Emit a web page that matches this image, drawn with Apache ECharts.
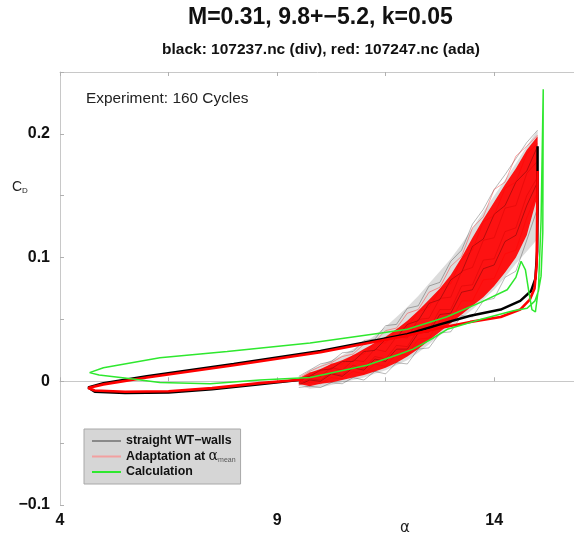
<!DOCTYPE html>
<html><head><meta charset="utf-8">
<script src="https://cdn.jsdelivr.net/npm/echarts@6/dist/echarts.min.js"></script>
<style>html,body{margin:0;padding:0;background:#fff}#c{width:574px;height:535px}</style>
</head><body><div id="c"></div><script>
// ---- data ----
const xTickLabels = [4, 9, 14];
const yTickLabels = [-0.1, 0, 0.1, 0.2];

// alpha grid of the noisy rising branches (160 measured cycles)
const bundleAlpha = [9.5, 9.75, 10, 10.25, 10.5, 10.75, 11, 11.25, 11.5, 11.75, 12, 12.25, 12.5, 12.75, 13, 13.25, 13.5, 13.75, 14, 14.25, 14.5, 14.75, 15];
// envelopes of the cycle bundles
const redUpper   = [0.002, 0.007, 0.010, 0.014, 0.017, 0.021, 0.026, 0.031, 0.036, 0.042, 0.049, 0.057, 0.066, 0.075, 0.086, 0.100, 0.116, 0.131, 0.145, 0.159, 0.172, 0.187, 0.198];
const redLower   = [-0.002, -0.004, -0.002, -0.001, 0.001, 0.003, 0.005, 0.008, 0.011, 0.015, 0.020, 0.026, 0.033, 0.040, 0.047, 0.054, 0.061, 0.068, 0.077, 0.088, 0.100, 0.118, 0.150];
const blackUpper = [0.002, 0.009, 0.013, 0.017, 0.021, 0.026, 0.031, 0.037, 0.044, 0.052, 0.060, 0.069, 0.079, 0.089, 0.099, 0.111, 0.124, 0.137, 0.150, 0.163, 0.176, 0.190, 0.203];
const blackLower = [-0.003, -0.006, -0.005, -0.003, -0.001, 0.001, 0.003, 0.006, 0.009, 0.013, 0.017, 0.023, 0.030, 0.037, 0.044, 0.051, 0.058, 0.066, 0.074, 0.084, 0.095, 0.105, 0.115];
// a few individual cycles (texture)
const redCycle1 = [0.002, 0.007, 0.008, 0.014, 0.014, 0.021, 0.022, 0.031, 0.031, 0.042, 0.044, 0.056, 0.060, 0.074, 0.079, 0.099, 0.106, 0.129, 0.134, 0.156, 0.161, 0.184, 0.192];
const redCycle2 = [-0.001, 0.005, 0.004, 0.011, 0.009, 0.017, 0.016, 0.026, 0.024, 0.036, 0.035, 0.050, 0.051, 0.067, 0.068, 0.089, 0.092, 0.114, 0.116, 0.140, 0.142, 0.168, 0.178];
const redCycle3 = [-0.002, 0.002, 0.001, 0.007, 0.005, 0.013, 0.010, 0.020, 0.018, 0.029, 0.028, 0.042, 0.042, 0.058, 0.058, 0.077, 0.078, 0.098, 0.099, 0.121, 0.124, 0.150, 0.165];
const redCycle4 = [-0.003, -0.001, -0.002, 0.003, 0.002, 0.008, 0.006, 0.014, 0.012, 0.022, 0.021, 0.034, 0.035, 0.049, 0.049, 0.065, 0.065, 0.082, 0.083, 0.103, 0.106, 0.132, 0.153];
const redCycle5 = [0.003, 0.008, 0.012, 0.015, 0.020, 0.022, 0.030, 0.032, 0.041, 0.043, 0.055, 0.058, 0.072, 0.076, 0.093, 0.101, 0.124, 0.133, 0.155, 0.161, 0.182, 0.190, 0.199];
const blackCycle1 = [0.004, 0.009, 0.014, 0.016, 0.023, 0.024, 0.033, 0.034, 0.045, 0.046, 0.059, 0.061, 0.077, 0.080, 0.097, 0.106, 0.127, 0.139, 0.155, 0.167, 0.180, 0.193, 0.203];
const blackCycle2 = [0.002, 0.004, 0.009, 0.010, 0.016, 0.016, 0.024, 0.025, 0.034, 0.035, 0.046, 0.049, 0.063, 0.066, 0.082, 0.088, 0.109, 0.115, 0.135, 0.142, 0.161, 0.170, 0.190];
const blackCycle3 = [-0.003, 0.001, 0.000, 0.006, 0.004, 0.011, 0.009, 0.018, 0.016, 0.026, 0.026, 0.039, 0.040, 0.054, 0.055, 0.072, 0.074, 0.091, 0.094, 0.113, 0.118, 0.142, 0.161];
const blackCycle4 = [-0.005, -0.004, -0.005, -0.001, -0.002, 0.003, 0.001, 0.008, 0.006, 0.015, 0.014, 0.026, 0.027, 0.039, 0.040, 0.053, 0.052, 0.065, 0.067, 0.084, 0.089, 0.114, 0.140];

// descending branch + low-alpha part of the loops (all cycles overlap here)
const blackLoopX = [15.0, 15.0, 14.99, 14.95, 14.85, 14.6, 14.15, 13.45, 12.75, 12.0, 10.0, 8.0, 6.0, 5.0, 4.65, 4.8, 5.5, 6.5, 7.5, 8.6, 9.5];
const blackLoopY = [0.19, 0.14, 0.105, 0.083, 0.073, 0.065, 0.058, 0.053, 0.046, 0.038, 0.0245, 0.014, 0.004, -0.0015, -0.005, -0.0085, -0.0095, -0.009, -0.0065, -0.0025, 0.001];
const redLoopX = [15.0, 14.98, 14.93, 14.82, 14.6, 14.15, 13.45, 12.75, 12.0, 10.0, 8.0, 6.0, 5.0, 4.65, 4.8, 5.5, 6.5, 7.5, 8.6, 9.6];
const redLoopY = [0.17, 0.095, 0.075, 0.066, 0.058, 0.052, 0.048, 0.043, 0.037, 0.0235, 0.013, 0.003, -0.0025, -0.0055, -0.0075, -0.0085, -0.008, -0.0055, -0.0015, 0.0015];

// calculation loop
const greenX = [4.68, 5.0, 6.3, 7.85, 9.76, 11.4, 12.0, 12.9, 13.7, 14.3, 14.5, 14.62, 14.72, 14.8, 14.87, 14.95, 15.02, 15.08, 15.13, 15.12, 15.08, 15.02, 14.94, 14.76, 14.44, 13.68, 12.92, 12.6, 12.13, 11.83, 11.07, 9.76, 8.6, 7.46, 6.3, 5.54, 4.9, 4.68];
const greenY = [0.007, 0.011, 0.019, 0.024, 0.031, 0.039, 0.042, 0.052, 0.064, 0.074, 0.084, 0.097, 0.090, 0.072, 0.058, 0.056, 0.075, 0.130, 0.236, 0.120, 0.085, 0.073, 0.065, 0.059, 0.057, 0.050, 0.042, 0.035, 0.026, 0.022, 0.013, 0.003, 0.001, -0.002, -0.001, 0.0025, 0.005, 0.007];

const NAME_BLACK = 'straight WT\u2212walls';
const NAME_RED = 'Adaptation at \u03b1_mean';
const NAME_GREEN = 'Calculation';
const FONT = "'Liberation Sans', Arial, Helvetica, sans-serif";

// ---- helpers ----
const zip = (xs, ys) => xs.map((x, i) => [x, ys[i]]);
function lineSeries(name, xs, ys, color, width) {
  return { type: 'line', name, data: zip(xs, ys), showSymbol: false, symbol: 'none',
    lineStyle: { color, width }, itemStyle: { color }, silent: true, animation: false, clip: false };
}
function bandSeries(name, upper, lower, fill) {
  return { type: 'custom', name, silent: true, animation: false,
    data: [[bundleAlpha[0], upper[0]]],
    renderItem: (params, api) => {
      const pts = [];
      for (let i = 0; i < bundleAlpha.length; i++) pts.push(api.coord([bundleAlpha[i], upper[i]]));
      for (let i = bundleAlpha.length - 1; i >= 0; i--) pts.push(api.coord([bundleAlpha[i], lower[i]]));
      return { type: 'polygon', shape: { points: pts }, style: { fill } };
    } };
}

const chart = echarts.init(document.getElementById('c'), null, { renderer: 'canvas' });
const axisLineColor = '#c8c8c8';
const xAxisBase = { type: 'value', min: 4, max: 16, interval: 2.5,
  axisLine: { show: true, lineStyle: { color: axisLineColor, width: 1 } },
  axisTick: { show: true, inside: true, length: 4, lineStyle: { color: '#b0b0b0' } },
  splitLine: { show: false } };

chart.setOption({
  animation: false,
  backgroundColor: '#fff',
  textStyle: { fontFamily: FONT },
  title: [
    { text: 'M=0.31, 9.8+\u22125.2, k=0.05', left: 188, top: 6, padding: 0,
      textStyle: { fontSize: 23, fontWeight: 'bold', color: '#111', fontFamily: FONT } },
    { text: 'black: 107237.nc (div), red: 107247.nc (ada)', left: 162, top: 42, padding: 0,
      textStyle: { fontSize: 15.5, fontWeight: 'bold', color: '#111', fontFamily: FONT } }
  ],
  grid: { left: 60, top: 72, width: 521, height: 433, containLabel: false, outerBoundsMode: 'none' },
  xAxis: [
    Object.assign({}, xAxisBase, { position: 'bottom',
      axisLabel: { fontSize: 16, fontWeight: 'bold', color: '#111', margin: 8, fontFamily: FONT,
        formatter: v => xTickLabels.includes(Math.round(v * 100) / 100) ? String(v) : '' } }),
    Object.assign({}, xAxisBase, { position: 'top', axisLabel: { show: false } })
  ],
  yAxis: { type: 'value', min: -0.1, max: 0.25, interval: 0.05,
    axisLine: { show: true, lineStyle: { color: axisLineColor, width: 1 } },
    axisTick: { show: true, inside: true, length: 4, lineStyle: { color: '#b0b0b0' } },
    splitLine: { show: false },
    axisLabel: { fontSize: 16, fontWeight: 'bold', color: '#111', margin: 10, fontFamily: FONT,
      formatter: v => {
        const r = Math.round(v * 100) / 100;
        if (!yTickLabels.includes(r)) return '';
        if (r === 0) return '0';
        return (r < 0 ? '\u2212' : '') + String(Math.abs(r));
      } } },
  legend: {
    left: 84, top: 429, orient: 'vertical', icon: 'rect', itemWidth: 29, itemHeight: 2, itemGap: 1.5,
    padding: [5, 5, 5, 8], backgroundColor: '#d6d6d6', borderColor: '#a8a8a8', borderWidth: 1,
    selectedMode: false,
    textStyle: { fontSize: 12.4, fontWeight: 'bold', color: '#111', lineHeight: 14, fontFamily: FONT,
      rich: { a: { fontSize: 14, fontWeight: 'normal', color: '#111', fontFamily: 'DejaVu Serif', lineHeight: 14 },
              s: { fontSize: 7, fontWeight: 'normal', color: '#555', verticalAlign: 'bottom', lineHeight: 14, padding: [6, 0, 0, 0] } } },
    formatter: name => name === NAME_RED ? 'Adaptation at {a|\u03b1}{s|mean}' : name,
    data: [
      { name: NAME_BLACK, itemStyle: { color: '#8a8a8a' } },
      { name: NAME_RED, itemStyle: { color: '#f2a0a0' } },
      { name: NAME_GREEN, itemStyle: { color: '#2ee82e' } }
    ]
  },
  graphic: [
    { type: 'text', left: 86, top: 91, style: { text: 'Experiment: 160 Cycles', font: "15.4px " + FONT, fill: '#222' } },
    { type: 'text', left: 12, top: 180, style: { text: '{c|C}{d|D}', rich: {
        c: { fontSize: 14, fontFamily: FONT, fill: '#222' },
        d: { fontSize: 8, fontFamily: FONT, fill: '#222', padding: [7, 0, 0, 0] } } } },
    { type: 'text', left: 400, top: 521, style: { text: '\u03b1', font: "15px 'DejaVu Sans', sans-serif", fill: '#222' } }
  ],
  series: [
    bandSeries('black band', blackUpper, blackLower, 'rgba(40,40,40,0.16)'),
    lineSeries(NAME_BLACK, bundleAlpha, blackCycle1, 'rgba(0,0,0,0.4)', 0.7),
    lineSeries(NAME_BLACK, bundleAlpha, blackCycle2, 'rgba(0,0,0,0.4)', 0.7),
    lineSeries(NAME_BLACK, bundleAlpha, blackCycle3, 'rgba(0,0,0,0.4)', 0.7),
    lineSeries(NAME_BLACK, bundleAlpha, blackCycle4, 'rgba(0,0,0,0.4)', 0.7),
    bandSeries('red band', redUpper, redLower, 'rgba(255,0,0,0.92)'),
    lineSeries(NAME_RED, bundleAlpha, redCycle1, 'rgba(255,0,0,0.55)', 0.8),
    lineSeries(NAME_RED, bundleAlpha, redCycle2, 'rgba(200,0,0,0.45)', 0.8),
    lineSeries(NAME_RED, bundleAlpha, redCycle3, 'rgba(200,0,0,0.45)', 0.8),
    lineSeries(NAME_RED, bundleAlpha, redCycle4, 'rgba(255,0,0,0.55)', 0.8),
    lineSeries(NAME_RED, bundleAlpha, redCycle5, 'rgba(255,0,0,0.45)', 0.8),
    lineSeries(NAME_BLACK, blackLoopX, blackLoopY, '#000', 2.5),
    lineSeries(NAME_RED, redLoopX, redLoopY, '#ff0000', 2.6),
    lineSeries(NAME_GREEN, greenX, greenY, '#2ee82e', 1.5)
  ]
});
</script></body></html>
